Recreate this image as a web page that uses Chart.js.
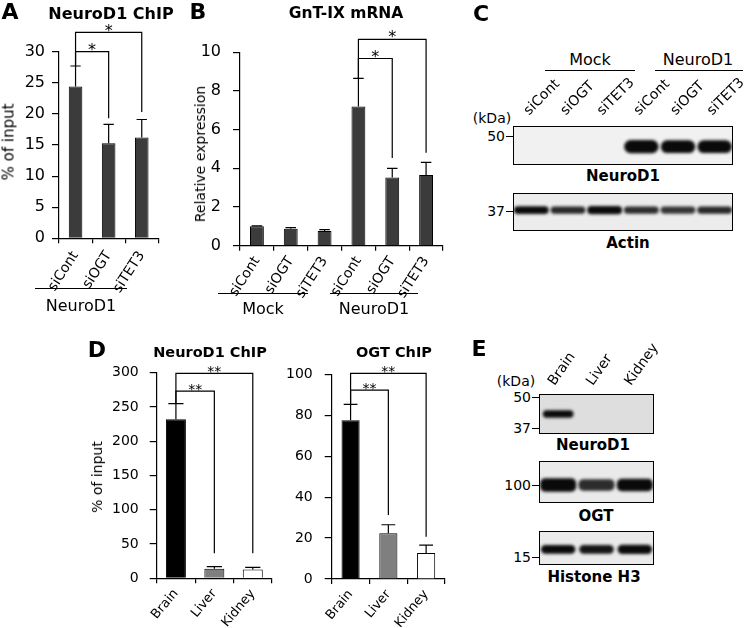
<!DOCTYPE html>
<html>
<head>
<meta charset="utf-8">
<script src="https://cdn.jsdelivr.net/npm/chart.js"></script>
<style>
  body { margin: 0; width: 745px; height: 628px; position: relative; background: #fff; overflow: hidden;
         font-family: "DejaVu Sans", sans-serif; color: #000; }
  canvas { position: absolute; }
  .t { position: absolute; white-space: nowrap; line-height: 1; }
  .ln { position: absolute; height: 0; border-top: 1.2px solid #000; }
</style>
</head>
<body>
<script>
// Panel A - NeuroD1 ChIP (% of input)
const chipLanes = ['siCont', 'siOGT', 'siTET3'];
const chipValues = [24.4, 15.3, 16.2];
const chipErrors = [3.3, 3.0, 2.9];
const chipBrackets = [
  { from: 0, to: 1, level: 30, drop: 19.3, label: '*' },
  { from: 0, to: 2, level: 33.1, drop: 20.3, label: '*' }
];

// Panel B - GnT-IX mRNA (relative expression)
const mrnaLanes = ['siCont', 'siOGT', 'siTET3', 'siCont', 'siOGT', 'siTET3'];
const mrnaValues = [1.0, 0.88, 0.76, 7.2, 3.53, 3.65];
const mrnaErrors = [0.02, 0.05, 0.07, 1.45, 0.47, 0.66];
const mrnaBrackets = [
  { from: 3, to: 4, level: 9.68, drop: 4.53, label: '*' },
  { from: 3, to: 5, level: 10.67, drop: 4.81, label: '*' }
];

// Panel D - ChIP in tissues
const tissues = ['Brain', 'Liver', 'Kidney'];
const neuroChipValues = [232, 14, 13];
const neuroChipErrors = [23, 3, 3];
const neuroChipBrackets = [
  { from: 0, to: 1, level: 273, drop: 36.5, label: '**' },
  { from: 0, to: 2, level: 299, drop: 36.5, label: '**' }
];
const ogtChipValues = [77.5, 22.3, 12.7];
const ogtChipErrors = [7.8, 4.2, 3.8];
const ogtChipBrackets = [
  { from: 0, to: 1, level: 92.3, drop: 31.3, label: '**' },
  { from: 0, to: 2, level: 100.5, drop: 20.7, label: '**' }
];

// Blots (band intensity per lane, 0 = no band)
const blotCNeuroD1 = [0, 0, 0, 1.0, 0.92, 0.9];
const blotCActin = [0.85, 0.72, 0.95, 0.7, 0.66, 0.72];
const blotENeuroD1 = [0.85, 0, 0];
const blotEOGT = [1.0, 0.7, 0.85];
const blotEHistone = [0.85, 0.8, 0.95];

Chart.defaults.font.family = '"DejaVu Sans", sans-serif';
Chart.defaults.color = '#000';
Chart.defaults.animation = false;

// upward error bars with caps
const errorBars = {
  id: 'errorBars',
  afterDatasetsDraw(chart, args, opts) {
    const { ctx, scales: { y } } = chart;
    const vals = chart.data.datasets[0].data;
    ctx.save();
    ctx.strokeStyle = '#000';
    ctx.lineWidth = 1.2;
    chart.getDatasetMeta(0).data.forEach((bar, i) => {
      const top = y.getPixelForValue(vals[i] + opts.errors[i]);
      const cap = bar.width * 0.38;
      ctx.beginPath();
      ctx.moveTo(bar.x, bar.y);
      ctx.lineTo(bar.x, top);
      ctx.moveTo(bar.x - cap, top);
      ctx.lineTo(bar.x + cap, top);
      ctx.stroke();
    });
    ctx.restore();
  }
};

// significance brackets
const brackets = {
  id: 'brackets',
  afterDraw(chart, args, opts) {
    const { ctx, scales: { x, y } } = chart;
    const vals = chart.data.datasets[0].data;
    ctx.save();
    ctx.strokeStyle = '#000';
    ctx.fillStyle = '#000';
    ctx.lineWidth = 1.2;
    ctx.font = opts.font;
    ctx.textAlign = 'center';
    ctx.textBaseline = 'middle';
    opts.items.forEach(b => {
      const x1 = x.getPixelForValue(b.from);
      const x2 = x.getPixelForValue(b.to);
      const yl = y.getPixelForValue(b.level);
      ctx.beginPath();
      ctx.moveTo(x1, y.getPixelForValue(vals[b.from] + opts.errors[b.from]));
      ctx.lineTo(x1, yl);
      ctx.lineTo(x2, yl);
      ctx.lineTo(x2, y.getPixelForValue(b.drop));
      ctx.stroke();
      ctx.fillText(b.label, (x1 + x2) / 2, yl - 1);
    });
    ctx.restore();
  }
};

// blot background, blurred bands and frame
const blotFrame = {
  id: 'blotFrame',
  beforeDatasetsDraw(chart, args, opts) {
    const { ctx, chartArea: c } = chart;
    ctx.save();
    ctx.fillStyle = opts.bg;
    ctx.fillRect(c.left, c.top, c.width, c.height);
    ctx.filter = 'blur(1.6px)';
  },
  afterDatasetsDraw(chart) {
    const { ctx, chartArea: c } = chart;
    ctx.restore();
    ctx.save();
    ctx.strokeStyle = '#000';
    ctx.lineWidth = 1;
    ctx.strokeRect(Math.round(c.left) + 0.5, Math.round(c.top) + 0.5, Math.round(c.width) - 1, Math.round(c.height) - 1);
    ctx.restore();
  }
};

function makeCanvas(box) {
  const cv = document.createElement('canvas');
  cv.width = box.w;
  cv.height = box.h;
  cv.style.left = box.left + 'px';
  cv.style.top = box.top + 'px';
  document.body.appendChild(cv);
  return cv;
}

function barChart(box, area, labels, values, errors, colors, yMax, step, items, st) {
  return new Chart(makeCanvas(box), {
    type: 'bar',
    data: {
      labels,
      datasets: [{
        data: values,
        backgroundColor: colors,
        borderColor: '#000',
        borderWidth: 1,
        barPercentage: st.barPct,
        categoryPercentage: 1
      }]
    },
    options: {
      responsive: false,
      layout: { padding: { top: area.t - box.top, right: box.left + box.w - area.r, bottom: 0, left: 0 } },
      plugins: {
        legend: { display: false },
        tooltip: { enabled: false },
        errorBars: { errors },
        brackets: { items, errors, font: st.starFont }
      },
      scales: {
        x: {
          ticks: { font: { size: st.xFont }, minRotation: st.rot, maxRotation: st.rot, padding: st.xPad, autoSkip: false },
          grid: { offset: true, drawOnChartArea: false, tickLength: 5, color: '#000', lineWidth: 1.2 },
          border: { color: '#000', width: 1.2 },
          afterFit: s => { s.height = box.top + box.h - area.b; s.paddingLeft = 0; s.paddingRight = 0; }
        },
        y: {
          min: 0, max: yMax,
          ticks: { stepSize: step, font: { size: st.yFont }, padding: st.yPad },
          grid: { drawOnChartArea: false, tickLength: st.tick, color: '#000', lineWidth: 1.2 },
          border: { color: '#000', width: 1.2 },
          afterFit: s => { s.width = area.l - box.left; s.paddingTop = 0; s.paddingBottom = 0; }
        }
      }
    },
    plugins: [errorBars, brackets]
  });
}

function blotChart(box, labels, intens, band, bg, axis) {
  const scale = v => band.half * (0.55 + 0.45 * v);
  return new Chart(makeCanvas(box), {
    type: 'bar',
    data: {
      labels,
      datasets: [{
        data: intens.map(v => v > 0 ? [band.mid - scale(v), band.mid + scale(v)] : null),
        backgroundColor: intens.map(v => `rgba(10,10,10,${Math.min(1, 0.15 + v)})`),
        borderWidth: 0,
        borderSkipped: false,
        borderRadius: band.round,
        barPercentage: band.width,
        categoryPercentage: 1
      }]
    },
    options: {
      responsive: false,
      layout: { padding: { left: 1, right: box.padR || 1, bottom: 1, top: axis ? 0 : 1 } },
      plugins: { legend: { display: false }, tooltip: { enabled: false }, blotFrame: { bg } },
      scales: {
        y: { display: false, min: 0, max: 1 },
        x: {
          display: !!axis,
          position: 'top',
          grid: { display: false },
          border: { display: false },
          ticks: axis ? { font: { size: 14 }, minRotation: axis.rot, maxRotation: axis.rot, padding: axis.pad, labelOffset: axis.shift, autoSkip: false } : {},
          afterFit: s => { if (axis) s.height = axis.h; s.paddingLeft = 0; s.paddingRight = 0; }
        }
      }
    },
    plugins: [blotFrame]
  });
}

function txt(s, x, y, size, o = {}) {
  const d = document.createElement('div');
  d.className = 't';
  d.textContent = s;
  d.style.left = x + 'px';
  d.style.top = y + 'px';
  d.style.fontSize = size + 'px';
  if (o.bold) d.style.fontWeight = 'bold';
  const ax = o.align === 'right' ? '-100%' : '-50%';
  d.style.transform = `translate(${ax}, -50%)` + (o.rot ? ` rotate(${o.rot}deg)` : '');
  document.body.appendChild(d);
}

function hline(x1, x2, y) {
  const d = document.createElement('div');
  d.className = 'ln';
  d.style.left = x1 + 'px';
  d.style.top = y + 'px';
  d.style.width = (x2 - x1) + 'px';
  document.body.appendChild(d);
}

function marker(s, x, y) {
  txt(s, x, y, 14, { align: 'right' });
  hline(x + 1, x + 8, y);
}

const grey = '#3b3b3b';

// A
barChart({ left: 0, top: 0, w: 170, h: 300 }, { l: 59, t: 51.7, r: 158.3, b: 238.3 },
  chipLanes, chipValues, chipErrors, grey, 30, 5, chipBrackets,
  { barPct: 0.41, xFont: 14, yFont: 16, rot: 57, xPad: 5, yPad: 7, tick: 7, starFont: '16px "DejaVu Sans"' });
txt('A', 10, 12, 22, { bold: true });
txt('NeuroD1 ChIP', 111, 14, 16, { bold: true });
txt('% of input', 9, 142, 15, { rot: -90 });
hline(35, 127, 288);
txt('NeuroD1', 81, 306, 16);

// B
barChart({ left: 175, top: 0, w: 280, h: 300 }, { l: 240, t: 52.3, r: 443, b: 245.7 },
  mrnaLanes, mrnaValues, mrnaErrors, grey, 10, 2, mrnaBrackets,
  { barPct: 0.41, xFont: 14, yFont: 16, rot: 57, xPad: 3, yPad: 12, tick: 7, starFont: '16px "DejaVu Sans"' });
txt('B', 198, 12, 22, { bold: true });
txt('GnT-IX mRNA', 346, 14, 15.5, { bold: true });
txt('Relative expression', 200, 154, 14, { rot: -90 });
hline(218, 308, 293);
txt('Mock', 263, 309, 16);
hline(330, 418, 293);
txt('NeuroD1', 374, 309, 16);

// C
txt('C', 481, 14, 22, { bold: true });
txt('Mock', 590, 60, 16);
hline(545, 635, 70);
txt('NeuroD1', 698, 60, 16);
hline(655, 743, 70);
txt('(kDa)', 492, 118, 14);
marker('50', 505, 136);
marker('37', 505, 211);
blotChart({ left: 512, top: 74, w: 233, h: 92, padR: 12 }, mrnaLanes, blotCNeuroD1,
  { mid: 0.47, half: 0.17, width: 0.94, round: 7 }, '#f1f1f1', { rot: 45, pad: -1, shift: 7, h: 52 });
txt('NeuroD1', 623, 176, 15, { bold: true });
blotChart({ left: 512, top: 192, w: 222, h: 40 }, mrnaLanes, blotCActin,
  { mid: 0.55, half: 0.11, width: 0.95, round: 4 }, '#ececec', null);
txt('Actin', 628, 243, 15, { bold: true });

// D
barChart({ left: 100, top: 340, w: 175, h: 288 }, { l: 156.7, t: 372.7, r: 272, b: 578.3 },
  tissues, neuroChipValues, neuroChipErrors, ['#000', '#7f7f7f', '#fff'], 300, 50, neuroChipBrackets,
  { barPct: 0.52, xFont: 13, yFont: 14, rot: 50, xPad: 3, yPad: 11, tick: 7, starFont: '14px "DejaVu Sans"' });
barChart({ left: 280, top: 340, w: 175, h: 288 }, { l: 331.7, t: 374.3, r: 445, b: 579 },
  tissues, ogtChipValues, ogtChipErrors, ['#000', '#7f7f7f', '#fff'], 100, 20, ogtChipBrackets,
  { barPct: 0.48, xFont: 13, yFont: 14, rot: 50, xPad: 3, yPad: 12, tick: 7, starFont: '14px "DejaVu Sans"' });
txt('D', 97, 350, 22, { bold: true });
txt('NeuroD1 ChIP', 210, 352, 14.5, { bold: true });
txt('OGT ChIP', 394, 352, 14.5, { bold: true });
txt('% of input', 97, 477, 14, { rot: -90 });

// E
txt('E', 479, 349, 22, { bold: true });
txt('(kDa)', 516, 381, 14);
marker('50', 531, 397);
marker('37', 531, 428);
marker('100', 531, 485);
marker('15', 531, 557);
blotChart({ left: 538, top: 325, w: 130, h: 110, padR: 14 }, tissues, blotENeuroD1,
  { mid: 0.5, half: 0.1, width: 0.8, round: 4 }, '#dedede', { rot: 55, pad: -3, shift: 7, h: 69 });
txt('NeuroD1', 593, 445, 15, { bold: true });
blotChart({ left: 538, top: 460, w: 117, h: 44 }, tissues, blotEOGT,
  { mid: 0.43, half: 0.16, width: 0.94, round: 5 }, '#eaeaea', null);
txt('OGT', 596, 516, 15, { bold: true });
blotChart({ left: 538, top: 530, w: 117, h: 36 }, tissues, blotEHistone,
  { mid: 0.46, half: 0.14, width: 0.9, round: 5 }, '#eaeaea', null);
txt('Histone H3', 594, 577, 15, { bold: true });
</script>
</body>
</html>
